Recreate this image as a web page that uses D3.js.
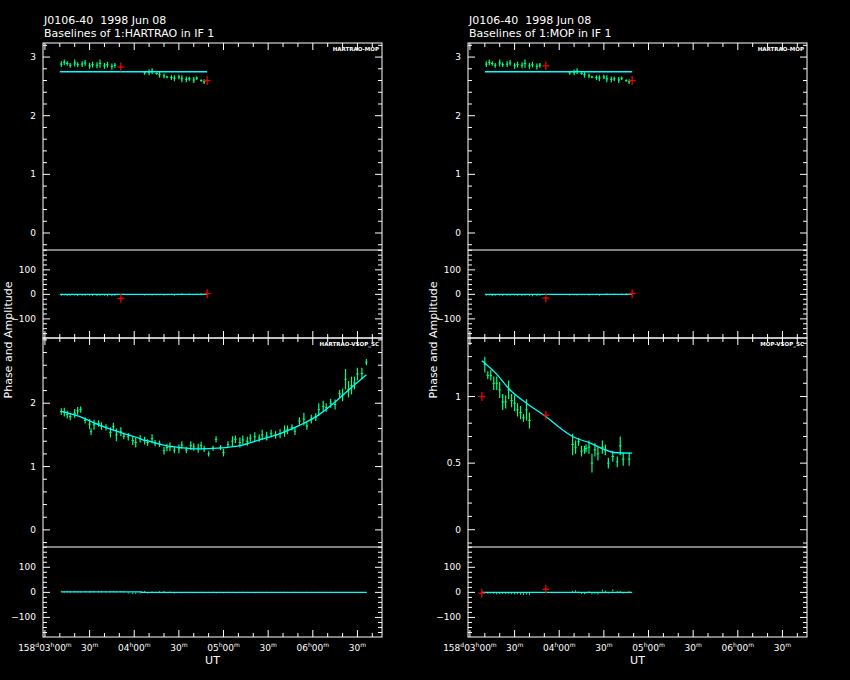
<!DOCTYPE html>
<html>
<head>
<meta charset="utf-8">
<script src="https://cdn.jsdelivr.net/npm/d3@7"></script>
<style>
  body { margin: 0; background: #000; }
  text { font-family: "DejaVu Sans", sans-serif; fill: #fff; }
</style>
</head>
<body>
<svg id="chart" width="850" height="680"></svg>
<script>
// time in minutes since 158d 03h00m
const xTicks = [0, 30, 60, 90, 120, 150, 180, 210];

// HARTRAO-MOP : [t, amp, err, phase]
const hmData = [
  [11,2.88,0.05,-3],[13,2.91,0.05,-2],[15,2.89,0.04,-4],[17,2.86,0.04,-3],[20,2.90,0.06,-2],
  [22,2.87,0.04,-4],[25,2.88,0.05,-3],[27,2.90,0.05,-3],[30,2.85,0.05,-2],[32,2.87,0.05,-3],
  [35,2.86,0.05,-4],[37,2.89,0.07,-3],[40,2.85,0.05,-3],[42,2.87,0.05,-5],[45,2.84,0.05,-4],
  [47,2.86,0.04,-3],
  [67,2.73,0.03,-2],[70,2.74,0.05,-1],[72,2.76,0.05,-2],[75,2.72,0.02,-1],[77,2.70,0.05,-1],
  [80,2.68,0.04,-2],[82,2.66,0.02,-1],[85,2.65,0.04,0],[87,2.64,0.05,-3],[90,2.66,0.04,0],
  [92,2.63,0.06,2],[95,2.62,0.05,0],[97,2.63,0.04,1],[100,2.61,0.05,0],[102,2.64,0.03,1],
  [105,2.60,0.02,2],[107,2.58,0.04,1]
];
const hmRed = [[51, 2.83, -16], [109, 2.60, 3]];
const hmRedR = [[51, 2.85, -15], [109, 2.60, 3]];
const hmModel = [[10, 2.75, 0], [109, 2.75, 0]];

// HARTRAO-VSOP_SC
const hvData = [
  [11,1.87,0.05,3],[13,1.86,0.07,2],[15,1.82,0.06,3],[17,1.79,0.06,2],[20,1.84,0.07,3],
  [22,1.88,0.06,2],[24,1.90,0.05,2],[27,1.73,0.05,3],[30,1.67,0.08,2],[31,1.55,0.05,3],
  [33,1.66,0.08,3],[36,1.68,0.05,2],[38,1.64,0.06,3],[41,1.62,0.05,2],[44,1.54,0.08,3],
  [46,1.63,0.06,3],[48,1.50,0.10,2],[51,1.55,0.07,3],[53,1.48,0.05,2],[56,1.47,0.06,-2],
  [59,1.41,0.07,-4],[61,1.38,0.08,-3],[64,1.44,0.06,-2],[67,1.41,0.06,3],[69,1.38,0.05,-2],
  [72,1.44,0.07,1],[74,1.37,0.05,0],[77,1.36,0.05,2],[80,1.25,0.06,3],[82,1.30,0.06,-1],
  [84,1.31,0.07,1],[87,1.26,0.05,-2],[90,1.28,0.07,0],[92,1.34,0.06,-1],[95,1.26,0.05,0],
  [98,1.33,0.07,0],[100,1.31,0.06,-1],[103,1.29,0.07,0],[105,1.33,0.06,0],[107,1.28,0.05,-1],
  [110,1.20,0.04,0],[113,1.29,0.04,0],[115,1.43,0.05,-1],[118,1.30,0.04,0],[120,1.22,0.06,-1],
  [123,1.35,0.05,0],[126,1.40,0.08,0],[128,1.43,0.06,-1],[131,1.38,0.08,0],[133,1.42,0.07,0],
  [136,1.40,0.07,0],[138,1.45,0.06,0],[141,1.47,0.07,-1],[144,1.45,0.06,0],[146,1.50,0.08,0],
  [149,1.48,0.07,0],[152,1.52,0.06,0],[155,1.50,0.06,0],[158,1.52,0.07,0],[161,1.56,0.09,0],
  [163,1.58,0.07,0],[166,1.62,0.05,0],[168,1.56,0.06,0],[171,1.72,0.06,0],[174,1.75,0.10,0],
  [176,1.64,0.06,0],[179,1.75,0.07,0],[182,1.78,0.06,0],[184,1.90,0.10,0],[187,1.95,0.09,0],
  [189,1.93,0.07,0],[192,2.00,0.07,0],[195,1.98,0.08,0],[198,2.15,0.06,0],[200,2.13,0.10,0],
  [202,2.38,0.16,0],[204,2.22,0.13,0],[206,2.28,0.14,0],[208,2.32,0.10,0],[210,2.46,0.10,0],
  [213,2.47,0.09,0],[216,2.65,0.05,0]
];
const hvModel = [
  [11,1.87,2],[22,1.80,2],[37,1.65,2],[56,1.50,2],[64,1.44,2],[65,1.43,0],[70,1.40,0],[81,1.33,0],
  [91,1.30,0],[104,1.28,0],[116,1.29,0],[131,1.33,0],[144,1.42,0],[158,1.52,0],[171,1.65,0],
  [183,1.80,0],[194,2.00,0],[206,2.25,0],[216,2.45,0]
];

// MOP-VSOP_SC
const mvData = [
  [10,1.24,0.06,-2],[12,1.16,0.03,-3],[14,1.16,0.04,-2],[16,1.10,0.05,-3],[18,1.10,0.05,-5],
  [20,1.05,0.06,-4],[22,0.96,0.06,-3],[24,0.96,0.05,-4],[26,1.05,0.07,-3],[28,0.97,0.05,-4],
  [30,0.95,0.06,-5],[32,0.90,0.05,-4],[34,0.88,0.05,-6],[36,0.84,0.03,-7],[38,0.90,0.08,-5],
  [40,0.82,0.06,-7],
  [69,0.64,0.08,3],[71,0.62,0.05,5],[73,0.66,0.03,1],[75,0.59,0.04,-3],[77,0.60,0.03,-4],
  [78,0.61,0.03,-2],[80,0.62,0.05,2],[82,0.50,0.07,-5],[84,0.60,0.05,-3],[86,0.57,0.05,-5],
  [89,0.62,0.05,7],[91,0.60,0.04,4],[93,0.50,0.04,-2],[96,0.55,0.04,8],[99,0.51,0.04,2],
  [101,0.63,0.07,3],[103,0.53,0.05,-2],[107,0.53,0.05,2]
];
const mvRed = [[8, 1.00, -3], [51, 0.86, 12]];
const mvModel = [
  [8,1.27,0],[17,1.18,0],[27,1.05,0],[38,0.95,0],[51,0.85,0],[60,0.77,0],[69,0.70,0],
  [81,0.65,0],[91,0.60,0],[97,0.58,0],[109,0.575,0]
];

const panels = [
  {x0: 43, y0: 43, y1: 250, y2: 338, amp: [-0.29, 3.24], ampTicks: [0,1,2,3], ampMinor: 0.2,
   data: hmData, red: hmRed, model: hmModel, label: "HARTRAO-MOP", xAxis: false},
  {x0: 43, y0: 338, y1: 547, y2: 637, amp: [-0.27, 3.03], ampTicks: [0,1,2], ampMinor: 0.2,
   data: hvData, red: [], model: hvModel, label: "HARTRAO-VSOP_SC", xAxis: true},
  {x0: 468, y0: 43, y1: 250, y2: 338, amp: [-0.29, 3.24], ampTicks: [0,1,2,3], ampMinor: 0.2,
   data: hmData, red: hmRedR, model: hmModel, label: "HARTRAO-MOP", xAxis: false},
  {x0: 468, y0: 338, y1: 547, y2: 637, amp: [-0.13, 1.44], ampTicks: [0,0.5,1], ampMinor: 0.1,
   data: mvData, red: mvRed, model: mvModel, label: "MOP-VSOP_SC", xAxis: true}
];

const svg = d3.select("#chart");
svg.append("rect").attr("width", 850).attr("height", 680).attr("fill", "#000");

const green = "#00ff7f", cyan = "#00ffff", red = "#ff0000";
const W = 339;

function tickLabel(sel, t) {
  const h = 3 + Math.floor(t / 60), m = t % 60;
  const parts = [];
  if (t === 0) parts.push(["158", false], ["d", true]);
  if (m === 0) parts.push([String(h).padStart(2, "0"), false], ["h", true]);
  parts.push([String(m).padStart(2, "0"), false], ["m", true]);
  parts.forEach(([s, sup]) => {
    sel.append("tspan").text(s)
      .attr("font-size", sup ? 6 : 9)
      .attr("dy", sup ? -4 : 4);
  });
}

panels.forEach((p, pi) => {
  const x = d3.scaleLinear().domain([-1.3, 226.5]).range([p.x0, p.x0 + W]);
  const ya = d3.scaleLinear().domain(p.amp).range([p.y1, p.y0]);
  const yp = d3.scaleLinear().domain([-178, 181]).range([p.y2, p.y1]);
  const g = svg.append("g");

  // frame
  g.append("rect").attr("x", p.x0).attr("y", p.y0).attr("width", W).attr("height", p.y2 - p.y0)
    .attr("fill", "none").attr("stroke", "#fff");
  g.append("line").attr("x1", p.x0).attr("x2", p.x0 + W).attr("y1", p.y1).attr("y2", p.y1)
    .attr("stroke", "#fff");

  // y ticks
  const yTicks = (scale, major, minorStep, fmt) => {
    const [a, b] = scale.domain();
    const minor = d3.range(Math.ceil(a / minorStep) * minorStep, b, minorStep);
    minor.forEach(v => {
      const isMaj = major.some(m => Math.abs(m - v) < 1e-6);
      const len = isMaj ? 7 : 4;
      [[p.x0, p.x0 + len], [p.x0 + W, p.x0 + W - len]].forEach(([u, w]) =>
        g.append("line").attr("x1", u).attr("x2", w).attr("y1", scale(v)).attr("y2", scale(v))
          .attr("stroke", "#fff"));
    });
    major.forEach(v => g.append("text").attr("x", p.x0 - 7).attr("y", scale(v) + 3)
      .attr("text-anchor", "end").attr("font-size", 9).text(fmt(v)));
  };
  yTicks(ya, p.ampTicks, p.ampMinor, d => String(d));
  yTicks(yp, [-100, 0, 100], 20, d => d < 0 ? "\u2212" + (-d) : String(d));

  // x ticks top and bottom
  d3.range(0, 227, 10).forEach(t => {
    const len = t % 30 === 0 ? 7 : 4;
    g.append("line").attr("x1", x(t)).attr("x2", x(t)).attr("y1", p.y0).attr("y2", p.y0 + len)
      .attr("stroke", "#fff");
    g.append("line").attr("x1", x(t)).attr("x2", x(t)).attr("y1", p.y2).attr("y2", p.y2 - len)
      .attr("stroke", "#fff");
  });
  if (p.xAxis) {
    xTicks.forEach(t => {
      const txt = g.append("text").attr("x", x(t)).attr("y", p.y2 + 10)
        .attr("text-anchor", "middle");
      tickLabel(txt, t);
    });
    g.append("text").attr("x", p.x0 + W / 2).attr("y", p.y2 + 27).attr("text-anchor", "middle")
      .attr("font-size", 11).text("UT");
  }

  g.append("text").attr("x", p.x0 + W - 3).attr("y", p.y0 + 8).attr("text-anchor", "end")
    .attr("font-size", 5.5).attr("font-weight", "bold").text(p.label);

  // data: amplitude and phase
  p.data.forEach(([t, a, e, ph]) => {
    g.append("line").attr("x1", x(t)).attr("x2", x(t)).attr("y1", ya(a - e)).attr("y2", ya(a + e))
      .attr("stroke", green).attr("stroke-width", 1.2);
    g.append("line").attr("x1", x(t) - 1.2).attr("x2", x(t) + 1.2).attr("y1", ya(a)).attr("y2", ya(a))
      .attr("stroke", green);
    const pe = 2 + Math.abs(ph) / 4;
    g.append("line").attr("x1", x(t)).attr("x2", x(t)).attr("y1", yp(ph - pe)).attr("y2", yp(ph + pe))
      .attr("stroke", green);
  });

  // models
  g.append("path").datum(p.model)
    .attr("d", d3.line().x(d => x(d[0])).y(d => ya(d[1])).curve(d3.curveMonotoneX))
    .attr("fill", "none").attr("stroke", cyan).attr("stroke-width", 1.3);
  g.append("path").datum(p.model)
    .attr("d", d3.line().x(d => x(d[0])).y(d => yp(d[2])).curve(d3.curveStepAfter))
    .attr("fill", "none").attr("stroke", cyan).attr("stroke-width", 1.3);

  // flagged points
  p.red.forEach(([t, a, ph]) => {
    [ya(a), yp(ph)].forEach(yy => {
      g.append("line").attr("x1", x(t) - 3.5).attr("x2", x(t) + 3.5).attr("y1", yy).attr("y2", yy)
        .attr("stroke", red).attr("stroke-width", 1.2);
      g.append("line").attr("x1", x(t)).attr("x2", x(t)).attr("y1", yy - 4.5).attr("y2", yy + 4.5)
        .attr("stroke", red).attr("stroke-width", 1.2);
    });
  });

  if (pi % 2 === 0) {
    g.append("text").attr("x", p.x0 + 1).attr("y", 24).attr("font-size", 11)
      .attr("xml:space", "preserve").text("J0106-40  1998 Jun 08");
    g.append("text").attr("x", p.x0 + 1).attr("y", 37).attr("font-size", 11)
      .text(pi === 0 ? "Baselines of 1:HARTRAO in IF 1" : "Baselines of 1:MOP in IF 1");
    g.append("text").attr("transform", `translate(${p.x0 - 31},340) rotate(-90)`)
      .attr("text-anchor", "middle").attr("font-size", 11).text("Phase and Amplitude");
  }
});
</script>
</body>
</html>
